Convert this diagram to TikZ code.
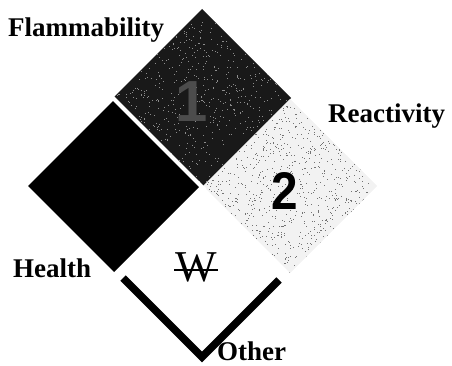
\documentclass[tikz,border=0pt]{standalone}
\usepackage{fontspec}
\setmainfont{Liberation Serif}
\newfontfamily\numfont{Liberation Sans}
\usetikzlibrary{calc}
\begin{document}
\begin{tikzpicture}[x=1pt,y=-1pt,
  lab/.style={font=\fontsize{27}{27}\selectfont\bfseries, inner sep=0pt, anchor=base west},
  flamfill/.style={fill=black!90},
  reactfill/.style={fill=black!5},
  healthfill/.style={fill=black},
  flamdot/.style={fill=black!45},
  reactdot/.style={fill=black!55},
  gapline/.style={draw=white, line width=4pt},
  otherline/.style={draw=black, line width=7.5pt, line join=miter}]
\useasboundingbox (0,0) rectangle (452,366);
\coordinate (cF) at (202,98);
\coordinate (cH) at (114,186);
\coordinate (cR) at (290,186);
\coordinate (cO) at (202,274);
\pgfmathsetseed{11}
% flammability square with speckle
\begin{scope}
\path[flamfill] ($(cF)+(0,-89)$) -- ($(cF)+(89,0)$) -- ($(cF)+(0,89)$) -- ($(cF)+(-89,0)$) -- cycle;
\clip ($(cF)+(0,-89)$) -- ($(cF)+(89,0)$) -- ($(cF)+(0,89)$) -- ($(cF)+(-89,0)$) -- cycle;
\foreach \i in {1,...,900}{
  \path[flamdot] ($(cF)+({rnd*178-89},{rnd*178-89})$) rectangle ++(1,1);
}
\end{scope}
% reactivity square with speckle
\begin{scope}
\path[reactfill] ($(cR)+(0,-87)$) -- ($(cR)+(87,0)$) -- ($(cR)+(0,87)$) -- ($(cR)+(-87,0)$) -- cycle;
\clip ($(cR)+(0,-87)$) -- ($(cR)+(87,0)$) -- ($(cR)+(0,87)$) -- ($(cR)+(-87,0)$) -- cycle;
\foreach \i in {1,...,1300}{
  \path[reactdot] ($(cR)+({rnd*174-87},{rnd*174-87})$) rectangle ++(1,1);
}
\end{scope}
% health square
\path[healthfill] ($(cH)+(0,-86)$) -- ($(cH)+(86,0)$) -- ($(cH)+(0,86)$) -- ($(cH)+(-86,0)$) -- cycle;
% white gap between flammability and health
\coordinate (g1) at (112,97);
\coordinate (g2) at (205,190);
\draw[gapline] (g1) -- (g2);
% other border (V)
\coordinate (v1) at (123,278);
\coordinate (v2) at (202,357);
\coordinate (v3) at (279,280);
\draw[otherline] (v1) -- (v2) -- (v3);
% numbers
\node[font=\numfont\bfseries\fontsize{58}{58}\selectfont, text=black!70, inner sep=0pt] (one) at (192,102) {1};
\node[font=\numfont\bfseries\fontsize{53}{53}\selectfont, inner sep=0pt, xscale=0.9] (two) at (284.5,191) {2};
\node[font=\fontsize{44}{44}\selectfont, inner sep=0pt] (w) at (196,267.5) {W};
\draw[line width=1.8pt] ($(w.west)+(-1,2.5)$) -- ($(w.east)+(1,2.5)$);
% labels
\node[lab] (flam) at (8,37) {Flammability};
\node[lab] (react) at (328,123) {Reactivity};
\node[lab] (health) at (13,277) {Health};
\node[lab] (other) at (217,360) {Other};
\end{tikzpicture}
\end{document}
